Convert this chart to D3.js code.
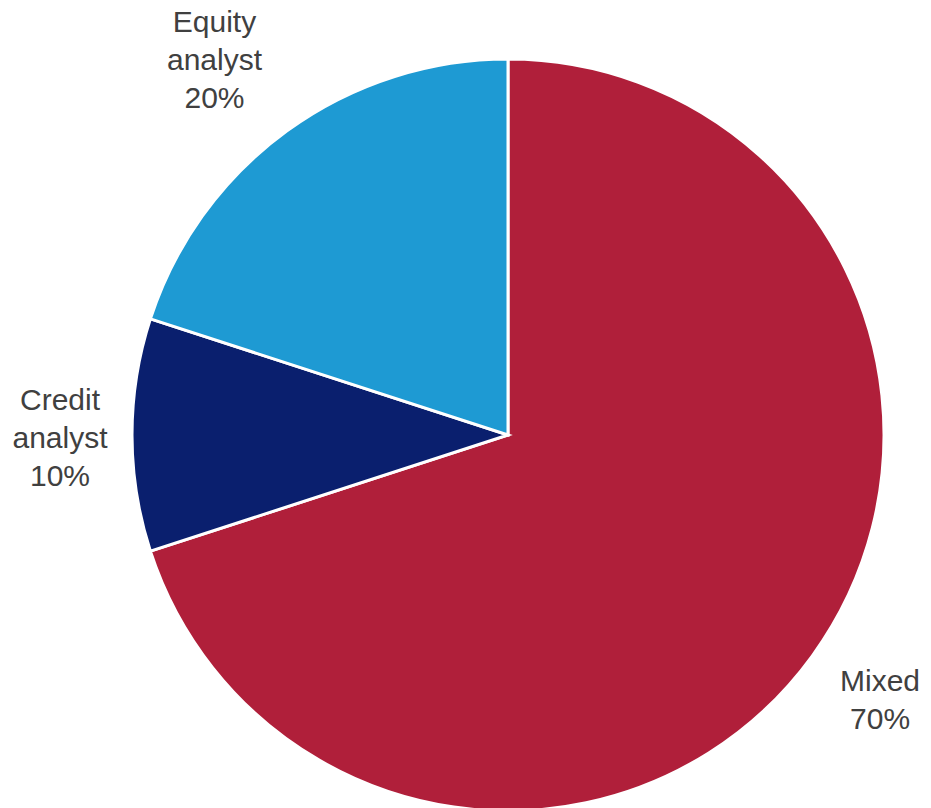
<!DOCTYPE html>
<html>
<head>
<meta charset="utf-8">
<script src="https://cdn.jsdelivr.net/npm/d3@7"></script>
<style>
  body { margin: 0; background: #fff; }
  svg text { font-family: "Liberation Sans", Arial, sans-serif; fill: #404040; }
</style>
</head>
<body>
<div id="chart-area"></div>
<script>
// pie data
var categories = ["Mixed", "Credit analyst", "Equity analyst"];
var values = [70, 10, 20];
var colors = ["#B01F3A", "#0A1F6E", "#1E9AD3"];

// label lines, as on the chart
var labelLines = [["Mixed", "70%"], ["Credit", "analyst", "10%"], ["Equity", "analyst", "20%"]];

function drawPie() {
    var width = 931, height = 808;
    var cx = 508, cy = 435, radius = 376;

    var svg = d3.select("#chart-area").append("svg")
        .attr("width", width)
        .attr("height", height);

    var g = svg.append("g").attr("transform", "translate(" + cx + "," + cy + ")");

    var data = categories.map((c, i) => ({ name: c, value: values[i], color: colors[i], lines: labelLines[i] }));

    var pie = d3.pie().sort(null).value(d => d.value);
    var arc = d3.arc().innerRadius(0).outerRadius(radius);
    var arcs = pie(data);

    g.selectAll("path")
        .data(arcs)
        .enter().append("path")
        .attr("d", arc)
        .attr("fill", d => d.data.color)
        .attr("stroke", "#fff")
        .attr("stroke-width", 3);

    // labels outside the rim, nudged a bit
    var labelArc = d3.arc().innerRadius(375 * 1.2).outerRadius(375 * 1.2);
    var offsets = [[8, 0], [2, 3], [-29, -11]];
    var lineH = 38;

    arcs.forEach((d, i) => {
        var p = labelArc.centroid(d);
        var lines = d.data.lines;
        var x = p[0] + offsets[i][0];
        var y = p[1] + offsets[i][1];
        var t = g.append("text")
            .attr("text-anchor", "middle")
            .attr("font-size", 30);
        lines.forEach((ln, j) => {
            t.append("tspan")
                .attr("x", x)
                .attr("y", y + (j - (lines.length - 1) / 2) * lineH + 10)
                .text(ln);
        });
    });
}

drawPie();
</script>
</body>
</html>
